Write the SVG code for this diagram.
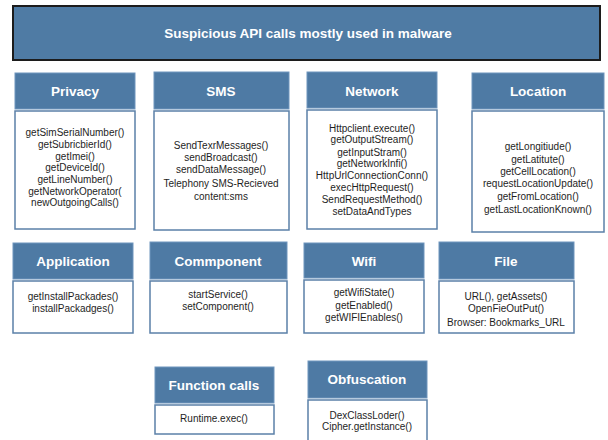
<svg xmlns="http://www.w3.org/2000/svg" width="608" height="440" viewBox="0 0 608 440">
  <style>
    .hdr { fill: #4e7aa4; stroke: #6f95bd; stroke-width: 1; }
    .body { fill: #ffffff; stroke: #5b80a8; stroke-width: 1.5; }
    .ht { font-family: "Liberation Sans", Arial, sans-serif; font-weight: bold; font-size: 13.5px; fill: #ffffff; text-anchor: middle; }
    .bt { font-family: "Liberation Sans", Arial, sans-serif; font-size: 10px; fill: #1e1e1e; text-anchor: middle; }
  </style>
  <rect width="608" height="440" fill="#ffffff"/>

  <g id="title">
    <rect x="13" y="6" width="587" height="54" fill="#4f7ba4" stroke="#1c1c1c" stroke-width="2"/>
    <text x="308" y="38" class="ht" font-size="13.6px">Suspicious API calls mostly used in malware</text>
  </g>

  <g id="privacy">
    <rect class="hdr" x="15" y="73" width="120" height="36"/>
    <rect class="body" x="15" y="111" width="120" height="118"/>
    <text class="ht" x="75" y="96">Privacy</text>
    <text class="bt" x="75" y="136">getSimSerialNumber()</text>
    <text class="bt" x="75" y="148">getSubricbierId()</text>
    <text class="bt" x="75" y="160">getImei()</text>
    <text class="bt" x="75" y="171">getDeviceId()</text>
    <text class="bt" x="75" y="183">getLineNumber()</text>
    <text class="bt" x="75" y="195">getNetworkOperator(</text>
    <text class="bt" x="75" y="206">newOutgoingCalls()</text>
  </g>

  <g id="sms">
    <rect class="hdr" x="154" y="72" width="135" height="37"/>
    <rect class="body" x="154" y="111" width="135" height="119"/>
    <text class="ht" x="221" y="96">SMS</text>
    <text class="bt" x="221" y="149">SendTexrMessages()</text>
    <text class="bt" x="221" y="161">sendBroadcast()</text>
    <text class="bt" x="221" y="173">sendDataMessage()</text>
    <text class="bt" x="221" y="187">Telephony SMS-Recieved</text>
    <text class="bt" x="221" y="200">content:sms</text>
  </g>

  <g id="network">
    <rect class="hdr" x="307" y="72" width="130" height="36"/>
    <rect class="body" x="307" y="110" width="130" height="119"/>
    <text class="ht" x="372" y="96">Network</text>
    <text class="bt" x="372" y="132">Httpclient.execute()</text>
    <text class="bt" x="372" y="143">getOutputStream()</text>
    <text class="bt" x="372" y="156">getInputStram()</text>
    <text class="bt" x="372" y="167">getNetworkInfi()</text>
    <text class="bt" x="372" y="179">HttpUrlConnectionConn()</text>
    <text class="bt" x="372" y="191">execHttpRequest()</text>
    <text class="bt" x="372" y="203">SendRequestMethod()</text>
    <text class="bt" x="372" y="215">setDataAndTypes</text>
  </g>

  <g id="location">
    <rect class="hdr" x="472" y="73" width="132" height="36"/>
    <rect class="body" x="472" y="111" width="132" height="121"/>
    <text class="ht" x="538" y="96">Location</text>
    <text class="bt" x="538" y="150">getLongitiude()</text>
    <text class="bt" x="538" y="163">getLatitute()</text>
    <text class="bt" x="538" y="175">getCellLocation()</text>
    <text class="bt" x="538" y="187">requestLocationUpdate()</text>
    <text class="bt" x="538" y="200">getFromLocation()</text>
    <text class="bt" x="538" y="213">getLastLocationKnown()</text>
  </g>

  <g id="application">
    <rect class="hdr" x="13" y="243" width="120" height="36"/>
    <rect class="body" x="13" y="281" width="120" height="52"/>
    <text class="ht" x="73" y="266">Application</text>
    <text class="bt" x="73" y="300">getInstallPackades()</text>
    <text class="bt" x="73" y="312">installPackadges()</text>
  </g>

  <g id="component">
    <rect class="hdr" x="150" y="242" width="137" height="37"/>
    <rect class="body" x="150" y="281" width="137" height="52"/>
    <text class="ht" x="218" y="266">Commponent</text>
    <text class="bt" x="218" y="298">startService()</text>
    <text class="bt" x="218" y="310">setComponent()</text>
  </g>

  <g id="wifi">
    <rect class="hdr" x="304" y="243" width="120" height="35"/>
    <rect class="body" x="304" y="280" width="120" height="53"/>
    <text class="ht" x="364" y="266">Wifi</text>
    <text class="bt" x="364" y="296">getWifiState()</text>
    <text class="bt" x="364" y="309">getEnabled()</text>
    <text class="bt" x="364" y="321">getWIFIEnables()</text>
  </g>

  <g id="file">
    <rect class="hdr" x="439" y="242" width="135" height="37"/>
    <rect class="body" x="439" y="281" width="135" height="52"/>
    <text class="ht" x="506" y="266">File</text>
    <text class="bt" x="506" y="300">URL(), getAssets()</text>
    <text class="bt" x="506" y="312">OpenFieOutPut()</text>
    <text class="bt" x="506" y="326">Browser: Bookmarks_URL</text>
  </g>

  <g id="function-calls">
    <rect class="hdr" x="155" y="367" width="119" height="36"/>
    <rect class="body" x="155" y="405" width="119" height="29"/>
    <text class="ht" x="214" y="390">Function calls</text>
    <text class="bt" x="214" y="422">Runtime.exec()</text>
  </g>

  <g id="obfuscation">
    <rect class="hdr" x="308" y="361" width="119" height="37"/>
    <rect class="body" x="308" y="400" width="119" height="45"/>
    <text class="ht" x="367" y="384">Obfuscation</text>
    <text class="bt" x="367" y="419">DexClassLoder()</text>
    <text class="bt" x="367" y="430">Cipher.getInstance()</text>
  </g>

  <g id="connectors"></g>
</svg>
